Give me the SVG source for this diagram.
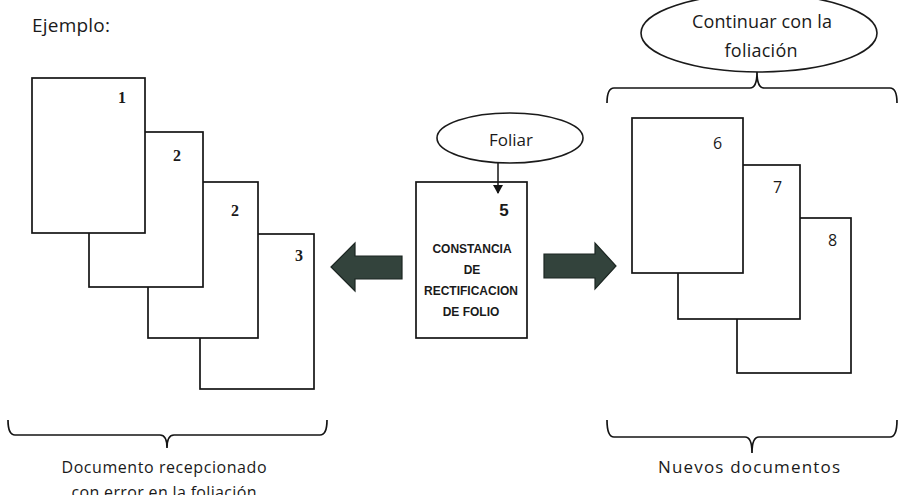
<svg xmlns="http://www.w3.org/2000/svg" width="904" height="495" viewBox="0 0 904 495">
<style>
.pg{fill:#fff;stroke:#141414;stroke-width:1.7}
.br{fill:none;stroke:#141414;stroke-width:1.7}
.el{fill:#fff;stroke:#1a1a1a;stroke-width:1.6}
.t{font-family:"Open Sans","Liberation Sans",sans-serif;fill:#1a1a1a}
.n{font-family:"Liberation Serif",serif;font-weight:bold;font-size:16px;fill:#1a1a1a}
.ns{font-family:"Open Sans","Liberation Sans",sans-serif;font-size:16px;fill:#1a1a1a}
.b{font-family:"Liberation Sans",sans-serif;font-weight:bold;fill:#1a1a1a;text-anchor:middle}
.ar{fill:#33433c;stroke:#1c2622;stroke-width:1.2}
</style>
<defs>
<marker id="ah" markerWidth="10" markerHeight="10" refX="8" refY="5" orient="auto" markerUnits="userSpaceOnUse">
<path d="M0,0 L9,5 L0,10 Z" fill="#141414"/>
</marker>
</defs>
<rect width="904" height="495" fill="#fff"/>
<text class="t" x="32" y="32" font-size="19" textLength="78">Ejemplo:</text>

<g id="stack-left">
<rect class="pg" x="200" y="234" width="114" height="155"/>
<text class="n" x="295" y="261">3</text>
<rect class="pg" x="148" y="182" width="110" height="156"/>
<text class="n" x="231" y="216">2</text>
<rect class="pg" x="89" y="132" width="114" height="155"/>
<text class="n" x="173" y="161">2</text>
<rect class="pg" x="32" y="78" width="113" height="155"/>
<text class="n" x="118" y="103">1</text>
</g>

<g id="brace-left">
<path class="br" d="M8,420 Q8,435 15,435 L160,435 Q167,435 167,448 Q167,435 174,435 L320,435 Q327,435 327,420"/>
<text class="t" x="164" y="473" font-size="16" text-anchor="middle" textLength="205">Documento recepcionado</text>
<text class="t" x="164" y="498" font-size="16" text-anchor="middle" textLength="185">con error en la foliación</text>
</g>

<g id="foliar">
<ellipse class="el" cx="510" cy="138" rx="73" ry="25"/>
<text class="t" x="511" y="146" font-size="17" text-anchor="middle">Foliar</text>
</g>

<g id="constancia">
<rect class="pg" x="416" y="182" width="111" height="156"/>
<text class="b" x="504" y="216" font-size="17">5</text>
<text class="b" x="472" y="253" font-size="12">CONSTANCIA</text>
<text class="b" x="472" y="274" font-size="12">DE</text>
<text class="b" x="471" y="295" font-size="12">RECTIFICACION</text>
<text class="b" x="471" y="316" font-size="12">DE FOLIO</text>
</g>

<g id="continuar">
<ellipse class="el" cx="759" cy="33" rx="118" ry="39"/>
<text class="t" x="762" y="28" font-size="18" text-anchor="middle" textLength="140">Continuar con la</text>
<text class="t" x="761" y="57" font-size="18" text-anchor="middle" textLength="73">foliación</text>
</g>

<g id="brace-top">
<path class="br" d="M607,103 Q607,88 614,88 L750,88 Q757,88 757,72 Q757,88 764,88 L890,88 Q897,88 897,103"/>
</g>

<g id="stack-right">
<rect class="pg" x="737" y="218" width="114" height="155"/>
<text class="ns" x="828" y="246">8</text>
<rect class="pg" x="678" y="165" width="122" height="154"/>
<text class="ns" x="773" y="193">7</text>
<rect class="pg" x="632" y="118" width="111" height="155"/>
<text class="ns" x="713" y="149">6</text>
</g>

<g id="brace-right">
<path class="br" d="M607,420 Q607,437 614,437 L745,437 Q752,437 752,453 Q752,437 759,437 L890,437 Q897,437 897,420"/>
<text class="t" x="749" y="473" font-size="17" text-anchor="middle" textLength="182">Nuevos documentos</text>
</g>

<g id="connectors">
<line x1="498" y1="163" x2="498" y2="193" stroke="#141414" stroke-width="1.5" marker-end="url(#ah)"/>
<path class="ar" d="M331,267 L355,243 L355,256 L402,256 L402,279 L355,279 L355,291 Z"/>
<path class="ar" d="M544,254 L595,254 L595,243 L616,266 L595,289 L595,278 L544,278 Z"/>
</g>
</svg>
